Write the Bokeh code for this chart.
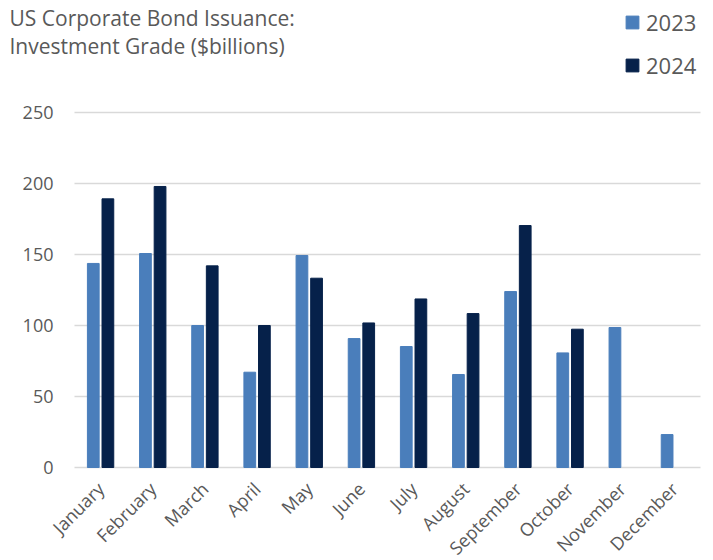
from bokeh.plotting import figure
from bokeh.models import (ColumnDataSource, Range1d, Label, Legend, LegendItem,
                          FixedTicker)
from bokeh.core.properties import value
from bokeh.transform import dodge
from bokeh.embed import file_html
from bokeh.resources import INLINE
import math

months = ["January", "February", "March", "April", "May", "June", "July",
          "August", "September", "October", "November", "December"]
values_2023 = [143.7, 150.7, 100.0, 67.1, 149.3, 90.8, 85.2, 65.5, 123.9, 80.7, 98.6, 23.2]
values_2024 = [189.2, 197.9, 142.0, 100.0, 133.3, 101.8, 118.7, 108.4, 170.4, 97.4, None, None]
series_names = ["2023", "2024"]
y_ticks = [0, 50, 100, 150, 200, 250]
title_lines = ["US Corporate Bond Issuance:", "Investment Grade ($billions)"]

C2023 = "#4A7EBB"
C2024 = "#06214A"
GRID = "#D9D9D9"
TXT = "#595959"
FONT = "Open Sans"

# layout in page pixels: plotting area (gridlines) spans x 74..700, y 112..467
W, PL, PR, PT, PB = 705, 74, 700, 112, 467
FB = 480                                  # frame bottom (a little below the zero line)
BOTTOM = 80
n = len(months)
pxu = (PR - PL) / n                       # px per category
ppy = (PB - PT) / y_ticks[-1]             # px per unit value

idx = list(range(n))
src23 = ColumnDataSource(dict(i=idx, v=values_2023))
i24 = [i for i, v in zip(idx, values_2024) if v is not None]
v24 = [v for v in values_2024 if v is not None]
src24 = ColumnDataSource(dict(i=i24, v=v24))

x0 = -0.5 - PL / pxu
x1 = n - 0.5 + (W - PR) / pxu
p = figure(x_range=Range1d(x0, x1), y_range=Range1d(-(FB - PB) / ppy, PB / ppy),
           frame_width=W, frame_height=FB,
           min_border_left=0, min_border_right=0, min_border_top=0, min_border_bottom=BOTTOM,
           output_backend="svg", toolbar_location=None)
p.outline_line_color = None
p.yaxis.visible = False
p.xgrid.grid_line_color = None
p.ygrid.grid_line_color = None

# gridlines over the category span only, with value labels
grid_src = ColumnDataSource(dict(y=y_ticks, label=[str(t) for t in y_ticks]))
p.segment(x0=-0.5, x1=n - 0.5, y0="y", y1="y", source=grid_src,
          line_color=GRID, line_width=1.6)
p.text(x=-0.5, y="y", text="label", source=grid_src, x_offset=-21,
       text_align="right", text_baseline="middle", text_font=value(FONT),
       text_font_size="18px", text_color=TXT)

r23 = p.vbar(x=dodge("i", -0.14), top="v", bottom=0, width=0.225, source=src23,
             fill_color=C2023, line_color=C2023)
r24 = p.vbar(x=dodge("i", 0.14), top="v", bottom=0, width=0.225, source=src24,
             fill_color=C2024, line_color=C2024)

# category axis (labels only; the zero gridline is the baseline)
xa = p.xaxis[0]
xa.ticker = FixedTicker(ticks=idx)
xa.major_label_overrides = {i: m for i, m in zip(idx, months)}
xa.axis_line_color = None
xa.major_tick_line_color = None
xa.minor_tick_line_color = None
xa.major_tick_out = 0
xa.major_label_orientation = math.pi / 4
xa.major_label_text_font = FONT
xa.major_label_text_font_size = "18px"
xa.major_label_text_color = TXT
xa.major_label_standoff = 5

# title
for txt, base in zip(title_lines, [17, 45]):
    p.add_layout(Label(x=9, y=FB - base, x_units="screen", y_units="screen", text=txt,
                       text_font=FONT, text_font_size="21px", text_color=TXT,
                       text_baseline="alphabetic"))

legend = Legend(items=[LegendItem(label=series_names[0], renderers=[r23]),
                       LegendItem(label=series_names[1], renderers=[r24])],
                location=(624, FB - 80), orientation="vertical",
                padding=0, margin=0, spacing=13, label_standoff=6,
                glyph_width=16, glyph_height=16, label_height=30,
                label_text_font=FONT, label_text_font_size="22px", label_text_color=TXT,
                border_line_color=None, background_fill_alpha=0)
p.add_layout(legend, "center")

open("out.html", "w").write(file_html(p, INLINE))
